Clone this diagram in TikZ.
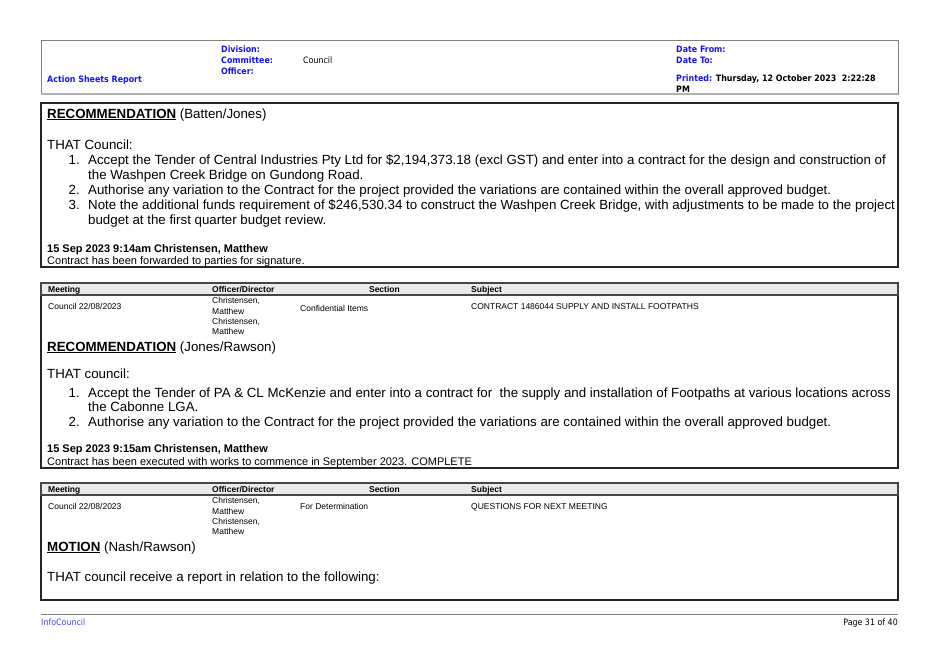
\documentclass[tikz,border=0pt]{standalone}
\usepackage{fontspec}
\setmainfont{Liberation Sans}
\newfontfamily\hdrfont{DejaVu Sans Condensed}
\definecolor{hdrblue}{RGB}{20,20,240}
\definecolor{boxgray}{RGB}{70,70,70}
\definecolor{bandgray}{RGB}{235,235,235}
\tikzset{
  hdr/.style={anchor=base west, inner sep=0pt, text=hdrblue, font=\hdrfont\bfseries\fontsize{8.8}{10}\selectfont},
  hdrval/.style={anchor=base west, inner sep=0pt, font=\hdrfont\fontsize{8.8}{10}\selectfont},
  body/.style={anchor=base west, inner sep=0pt, font=\fontsize{13.3}{15}\selectfont},
  num/.style={body, anchor=base east},
  small/.style={anchor=base west, inner sep=0pt, font=\fontsize{8.5}{10}\selectfont},
  smallbold/.style={anchor=base west, inner sep=0pt, font=\bfseries\fontsize{8.5}{10}\selectfont},
  note/.style={anchor=base west, inner sep=0pt, font=\bfseries\fontsize{11}{12}\selectfont},
  notetext/.style={anchor=base west, inner sep=0pt, font=\fontsize{11}{12}\selectfont},
  frame/.style={draw=black!85, line width=1.3pt},
  band/.style={draw=boxgray, line width=1.3pt, fill=bandgray},
}
\newcommand{\heading}[1]{\textbf{\underline{#1}}}
\begin{document}
\begin{tikzpicture}[x=1pt, y=-1pt]
\useasboundingbox (0,0) rectangle (940,664);

% header
\draw[draw=gray, line width=0.6pt] (41,40) rectangle (898,94);
\draw[draw=gray!60, line width=1.2pt] (41,94) -- (898,94);
\node[hdr] (div) at (221,52) {Division:};
\node[hdr] (com) at (221,63) {Committee:};
\node[hdr] (off) at (221,74) {Officer:};
\node[hdrval] (comval) at (303,63) {Council};
\node[hdr] (rep) at (47,82) {Action Sheets Report};
\node[hdr] (from) at (676,52) {Date From:};
\node[hdr] (to) at (676,63) {Date To:};
\node[hdr] (prn) at (676,81) {Printed: \textcolor{black}{Thursday, 12 October 2023\ \ 2:22:28}};
\node[hdr, text=black] (pm) at (676,92) {PM};

% first recommendation
\draw[frame] (41,103) rectangle (898,267);
\node[body] (rec1) at (47,118) {\heading{RECOMMENDATION} (Batten/Jones)};
\node[body] (that1) at (47,149) {THAT Council:};
\node[num] (n11) at (80,164) {1.};
\node[body] (t11) at (88,164) {Accept the Tender of Central Industries Pty Ltd for \$2,194,373.18 (excl GST) and enter into a contract for the design and construction of};
\node[body] (t11b) at (88,179) {the Washpen Creek Bridge on Gundong Road.};
\node[num] (n12) at (80,194) {2.};
\node[body] (t12) at (88,194) {Authorise any variation to the Contract for the project provided the variations are contained within the overall approved budget.};
\node[num] (n13) at (80,209) {3.};
\node[body] (t13) at (88,209) {Note the additional funds requirement of \$246,530.34 to construct the Washpen Creek Bridge, with adjustments to be made to the project};
\node[body] (t13b) at (88,224) {budget at the first quarter budget review.};
\node[note] (d1) at (47,252) {15 Sep 2023 9:14am Christensen, Matthew};
\node[notetext] (c1) at (47,264) {Contract has been forwarded to parties for signature.};

% second item
\draw[frame] (41,283) rectangle (898,468);
\draw[band] (41,283) rectangle (898,295);
\node[smallbold] (h21) at (48,292.5) {Meeting};
\node[smallbold] (h22) at (212,292.5) {Officer/Director};
\node[smallbold, anchor=base east] (h23) at (400,292.5) {Section};
\node[smallbold] (h24) at (471,292.5) {Subject};
\node[small] (m2) at (48,309) {Council 22/08/2023};
\node[small] (o2a) at (212,303) {Christensen,};
\node[small] (o2b) at (212,314) {Matthew};
\node[small] (o2c) at (212,324) {Christensen,};
\node[small] (o2d) at (212,334) {Matthew};
\node[small] (s2) at (300,311) {Confidential Items};
\node[small] (j2) at (471,309) {CONTRACT 1486044 SUPPLY AND INSTALL FOOTPATHS};
\node[body] (rec2) at (47,351) {\heading{RECOMMENDATION} (Jones/Rawson)};
\node[body] (that2) at (47,378) {THAT council:};
\node[num] (n21) at (80,397) {1.};
\node[body] (t21) at (88,397) {Accept the Tender of PA \& CL McKenzie and enter into a contract for\ \ the supply and installation of Footpaths at various locations across};
\node[body] (t21b) at (88,411) {the Cabonne LGA.};
\node[num] (n22) at (80,426) {2.};
\node[body] (t22) at (88,426) {Authorise any variation to the Contract for the project provided the variations are contained within the overall approved budget.};
\node[note] (d2) at (47,452) {15 Sep 2023 9:15am Christensen, Matthew};
\node[notetext] (c2) at (47,465) {Contract has been executed with works to commence in September 2023. COMPLETE};

% third item
\draw[frame] (41,483) rectangle (898,600);
\draw[band] (41,483) rectangle (898,495);
\node[smallbold] (h31) at (48,492.5) {Meeting};
\node[smallbold] (h32) at (212,492.5) {Officer/Director};
\node[smallbold, anchor=base east] (h33) at (400,492.5) {Section};
\node[smallbold] (h34) at (471,492.5) {Subject};
\node[small] (m3) at (48,509) {Council 22/08/2023};
\node[small] (o3a) at (212,503) {Christensen,};
\node[small] (o3b) at (212,514) {Matthew};
\node[small] (o3c) at (212,524) {Christensen,};
\node[small] (o3d) at (212,534) {Matthew};
\node[small] (s3) at (300,509) {For Determination};
\node[small] (j3) at (471,509) {QUESTIONS FOR NEXT MEETING};
\node[body] (mot) at (47,551) {\heading{MOTION} (Nash/Rawson)};
\node[body] (that3) at (47,581) {THAT council receive a report in relation to the following:};

% footer
\draw[draw=gray, line width=0.8pt] (41,614) -- (898,614);
\node[hdrval, text=hdrblue!80] (ic) at (41,625) {InfoCouncil};
\node[hdrval, anchor=base east] (pg) at (898,625) {Page 31 of 40};
\end{tikzpicture}
\end{document}
